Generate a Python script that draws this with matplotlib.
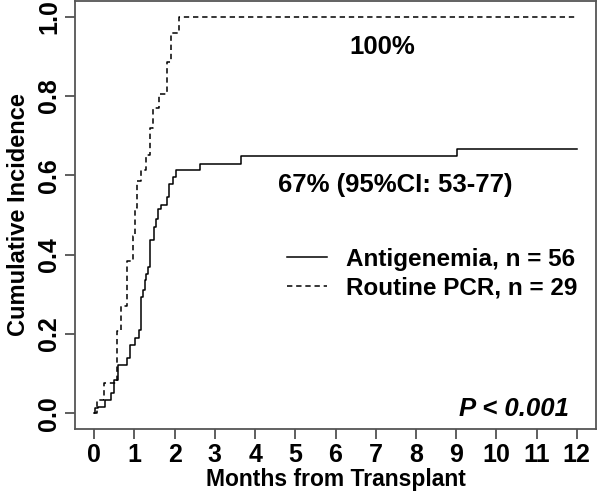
import matplotlib
matplotlib.use("Agg")
import matplotlib.pyplot as plt

plt.rcParams['font.family'] = ['Liberation Sans', 'DejaVu Sans']
plt.rcParams['font.weight'] = 'bold'

# Antigenemia (solid) step curve: time (months), cumulative incidence
ag_t = [0, 0.02, 0.09, 0.27, 0.42, 0.48, 0.50, 0.60, 0.81, 0.90, 1.01, 1.12, 1.16,
        1.20, 1.25, 1.29, 1.33, 1.39, 1.48, 1.53, 1.58, 1.66, 1.82, 1.87, 1.97,
        2.03, 2.63, 3.64, 9.02, 12.0]
ag_y = [0, 0.012, 0.016, 0.033, 0.050, 0.066, 0.083, 0.121, 0.138, 0.171, 0.190,
        0.209, 0.293, 0.310, 0.335, 0.352, 0.368, 0.436, 0.469, 0.490, 0.516,
        0.526, 0.545, 0.579, 0.595, 0.614, 0.629, 0.650, 0.667, 0.667]

# Routine PCR (dashed) step curve
pcr_t = [0, 0.07, 0.25, 0.57, 0.66, 0.81, 0.97, 1.02, 1.07, 1.16, 1.29, 1.39,
         1.46, 1.60, 1.80, 1.91, 2.10, 12.0]
pcr_y = [0, 0.034, 0.075, 0.207, 0.270, 0.385, 0.448, 0.517, 0.586, 0.614, 0.652,
         0.720, 0.770, 0.805, 0.885, 0.960, 1.000, 1.000]

x_ticks = list(range(0, 13))
y_ticks = [0.0, 0.2, 0.4, 0.6, 0.8, 1.0]
y_ticklabels = ["0.0", "0.2", "0.4", "0.6", "0.8", "1.0"]

fig = plt.figure(figsize=(6.01, 4.94), dpi=100)
ax = fig.add_axes([75/601, 1 - 429/494, (596 - 75)/601, 428/494])

ax.step(ag_t, ag_y, where='post', color='black', lw=1.1, label='Antigenemia, n = 56')
ax.step(pcr_t, pcr_y, where='post', color='black', lw=1.1, linestyle=(0, (3.5, 2.5)),
        label='Routine PCR, n = 29')

ax.set_xlim(-0.48, 12.48)
ax.set_ylim(-0.04, 1.04)
ax.set_xticks(x_ticks)
ax.set_xticklabels([str(v) for v in x_ticks], fontsize=18, fontweight='bold')
ax.set_yticks(y_ticks)
ax.set_yticklabels(y_ticklabels, fontsize=18, fontweight='bold', rotation=90,
                   va='center')
ax.tick_params(axis='both', direction='out', length=7, width=1.1, color='#333333',
               pad=3)
for s in ax.spines.values():
    s.set_color('#555555')
    s.set_linewidth(1.3)

ax.set_xlabel('Months from Transplant', fontsize=16.5, fontweight='bold', labelpad=1)
ax.set_ylabel('Cumulative Incidence', fontsize=17, fontweight='bold', labelpad=5)

ax.text(7.17, 0.925, '100%', fontsize=18.5, fontweight='bold', ha='center', va='center')
ax.text(7.48, 0.575, '67% (95%CI: 53-77)', fontsize=18.5, fontweight='bold',
        ha='center', va='center')
ax.text(11.8, 0.01, 'P < 0.001', fontsize=18.5, fontweight='bold', style='italic',
        ha='right', va='center')

leg = ax.legend(loc='center right', bbox_to_anchor=(0.982, 0.363), frameon=False,
                fontsize=17.5, handlelength=1.65, handletextpad=0.75, labelspacing=0.25,
                borderaxespad=0)
for t in leg.get_texts():
    t.set_fontweight('bold')

fig.savefig('out.png', dpi=100)
